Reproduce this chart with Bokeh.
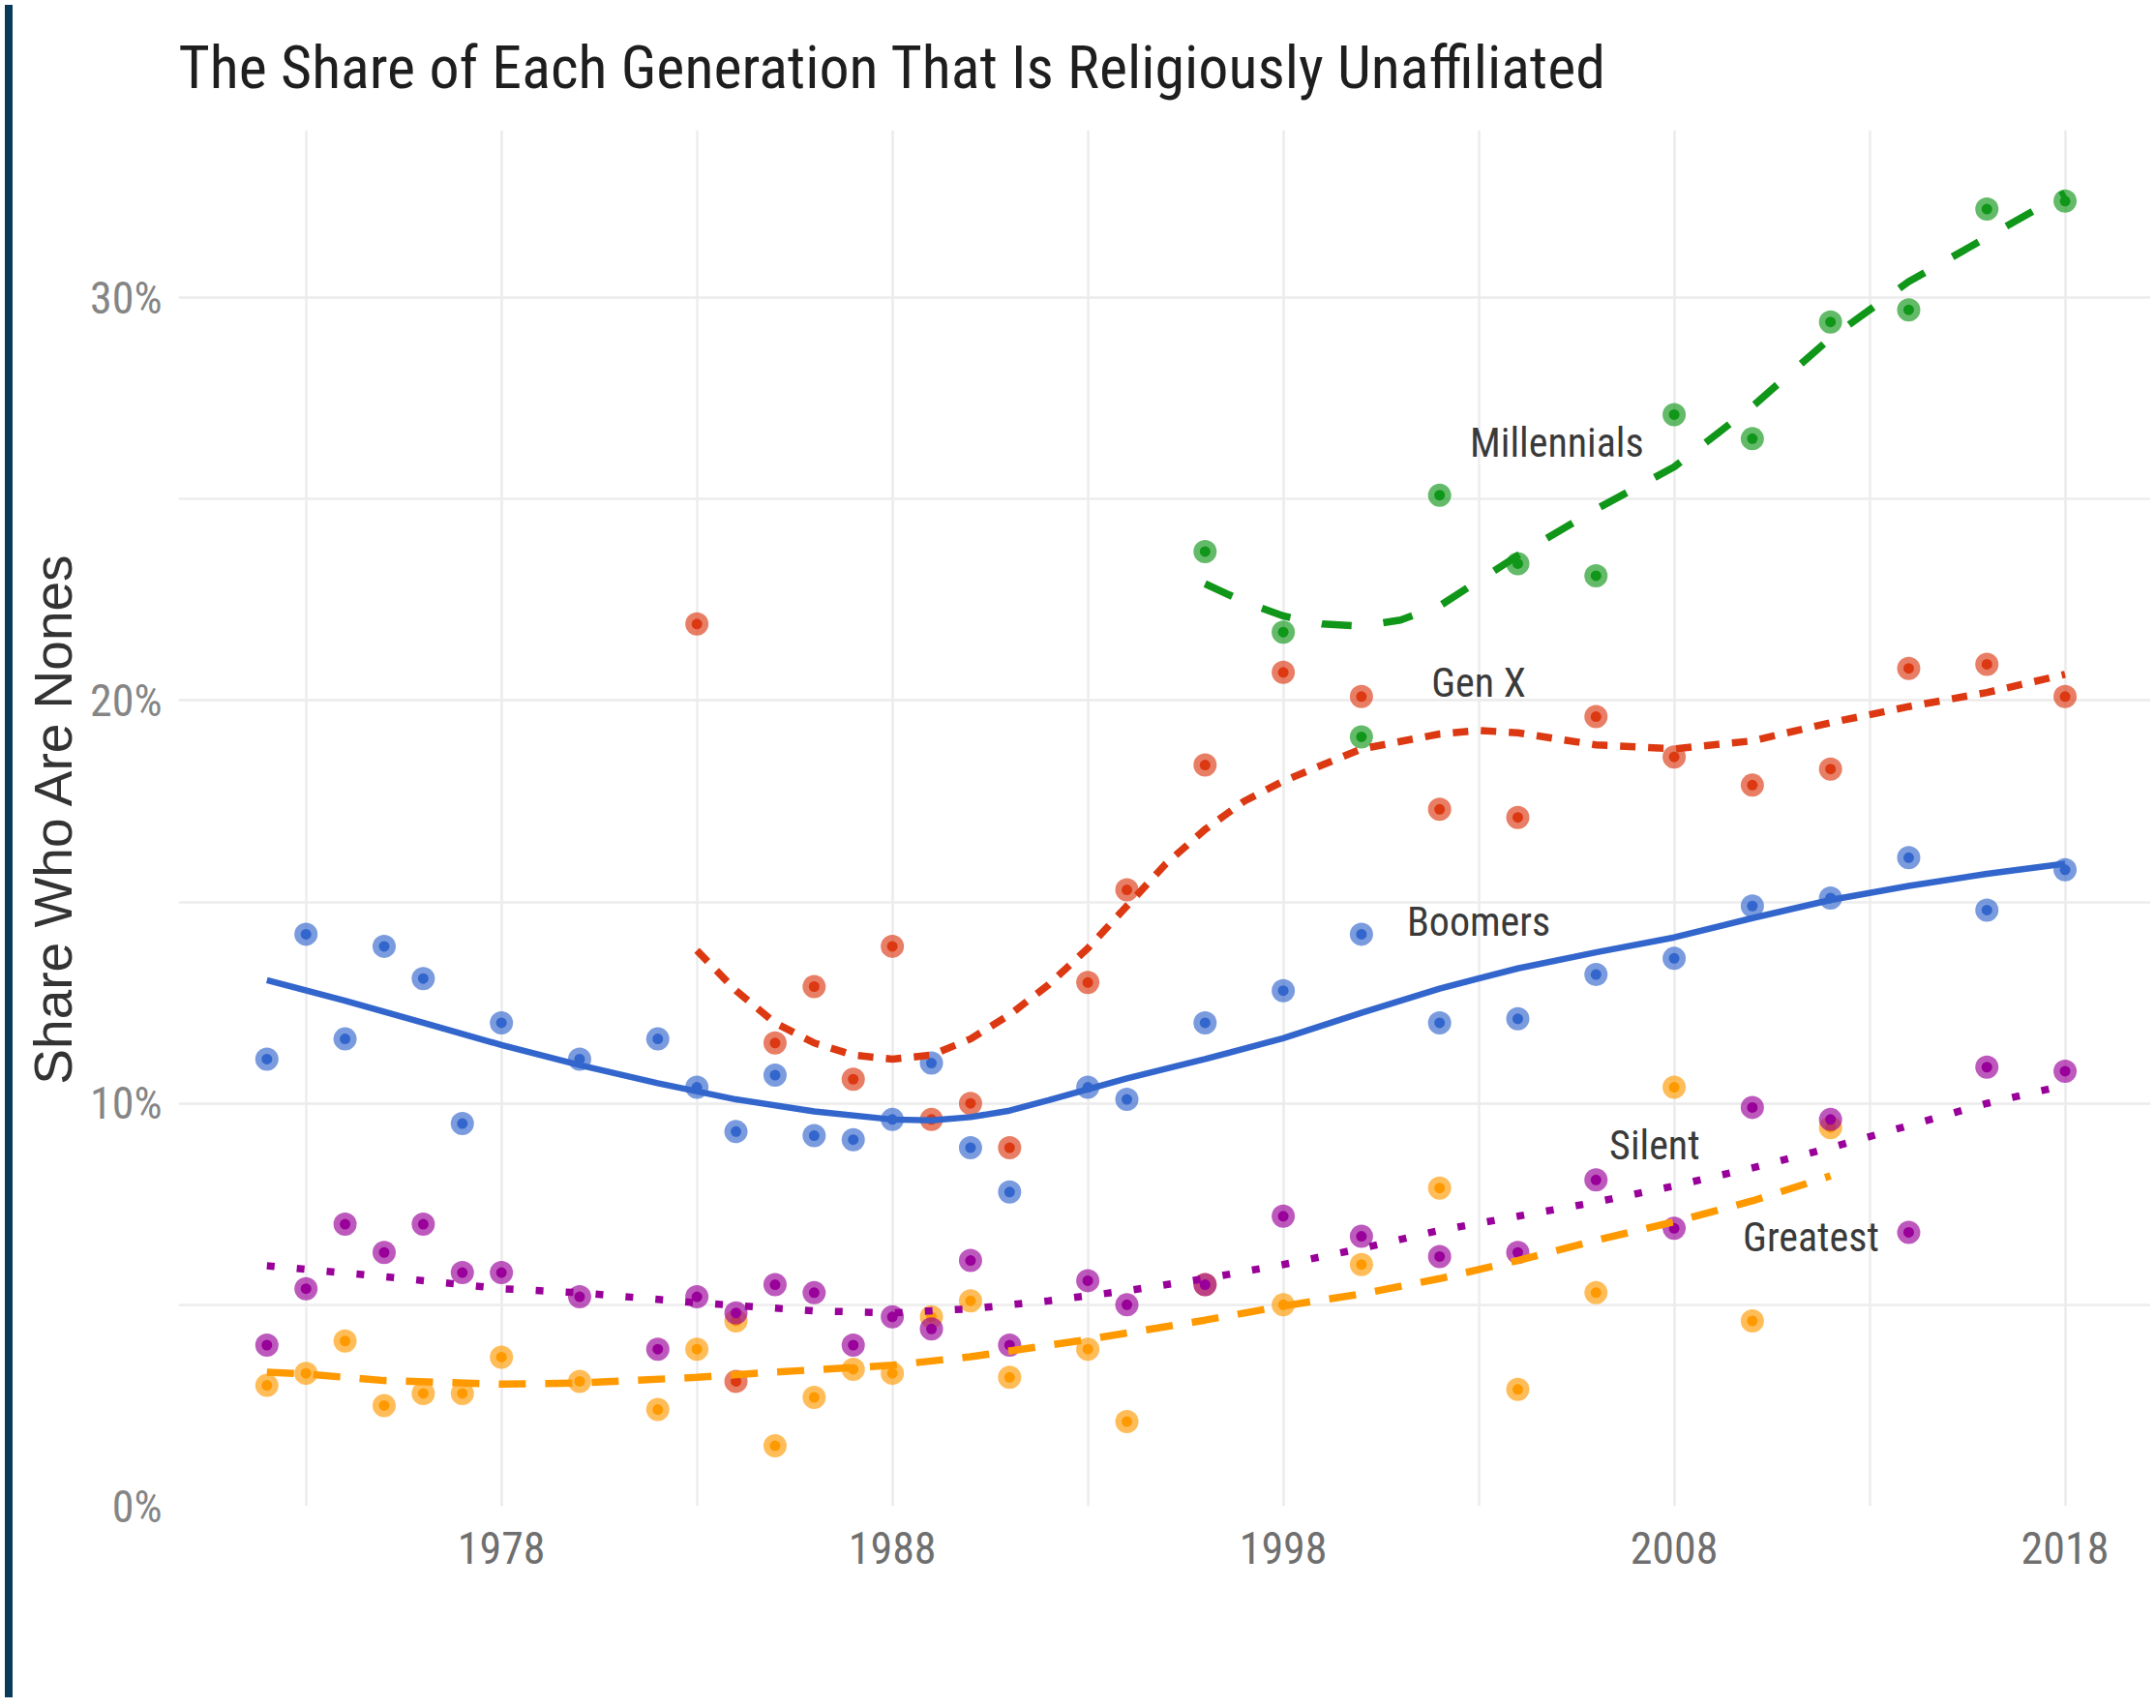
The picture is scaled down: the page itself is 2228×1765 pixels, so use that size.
from bokeh.plotting import figure
from bokeh.models import Range1d, FixedTicker, Div
from bokeh.layouts import row
from bokeh.core.properties import value
from bokeh.embed import file_html
from bokeh.resources import INLINE

# ---------------- data ----------------
title_text = "The Share of Each Generation That Is Religiously Unaffiliated"
y_axis_title = "Share Who Are Nones"

x_ticks = [1978, 1988, 1998, 2008, 2018]
x_minor = [1973, 1983, 1993, 2003, 2013]
y_ticks = [0, 10, 20, 30]
y_tick_labels = ["0%", "10%", "20%", "30%"]
y_minor = [5, 15, 25]

boomers_years = [1972, 1973, 1974, 1975, 1976, 1977, 1978, 1980, 1982, 1983, 1984, 1985,
                 1986, 1987, 1988, 1989, 1990, 1991, 1993, 1994, 1996, 1998, 2000, 2002,
                 2004, 2006, 2008, 2010, 2012, 2014, 2016, 2018]
boomers_pct = [11.1, 14.2, 11.6, 13.9, 13.1, 9.5, 12.0, 11.1, 11.6, 10.4, 9.3, 10.7,
               9.2, 9.1, 9.6, 11.0, 8.9, 7.8, 10.4, 10.1, 12.0, 12.8, 14.2, 12.0,
               12.1, 13.2, 13.6, 14.9, 15.1, 16.1, 14.8, 15.8]

silent_years = [1972, 1973, 1974, 1975, 1976, 1977, 1978, 1980, 1982, 1983, 1984, 1985,
                1986, 1987, 1988, 1989, 1990, 1991, 1993, 1994, 1996, 1998, 2000, 2002,
                2004, 2006, 2008, 2010, 2012, 2014, 2016, 2018]
silent_pct = [4.0, 5.4, 7.0, 6.3, 7.0, 5.8, 5.8, 5.2, 3.9, 5.2, 4.8, 5.5,
              5.3, 4.0, 4.7, 4.4, 6.1, 4.0, 5.6, 5.0, 5.5, 7.2, 6.7, 6.2,
              6.3, 8.1, 6.9, 9.9, 9.6, 6.8, 10.9, 10.8]

greatest_years = [1972, 1973, 1974, 1975, 1976, 1977, 1978, 1980, 1982, 1983, 1984, 1985,
                  1986, 1987, 1988, 1989, 1990, 1991, 1993, 1994, 1996, 1998, 2000, 2002,
                  2004, 2006, 2008, 2010, 2012]
greatest_pct = [3.0, 3.3, 4.1, 2.5, 2.8, 2.8, 3.7, 3.1, 2.4, 3.9, 4.6, 1.5,
                2.7, 3.4, 3.3, 4.7, 5.1, 3.2, 3.9, 2.1, 5.5, 5.0, 6.0, 7.9,
                2.9, 5.3, 10.4, 4.6, 9.4]

genx_years = [1983, 1984, 1985, 1986, 1987, 1988, 1989, 1990, 1991, 1993, 1994, 1996,
              1998, 2000, 2002, 2004, 2006, 2008, 2010, 2012, 2014, 2016, 2018]
genx_pct = [21.9, 3.1, 11.5, 12.9, 10.6, 13.9, 9.6, 10.0, 8.9, 13.0, 15.3, 18.4,
            20.7, 20.1, 17.3, 17.1, 19.6, 18.6, 17.9, 18.3, 20.8, 20.9, 20.1]

millennials_years = [1996, 1998, 2000, 2002, 2004, 2006, 2008, 2010, 2012, 2014, 2016, 2018]
millennials_pct = [23.7, 21.7, 19.1, 25.1, 23.4, 23.1, 27.1, 26.5, 29.4, 29.7, 32.2, 32.4]

# smoothed trend lines
boomers_fit_years = [1972, 1974, 1976, 1978, 1980, 1982, 1984, 1986, 1988, 1989, 1990, 1991,
                     1992, 1993, 1994, 1996, 1998, 2000, 2002, 2004, 2006, 2008, 2010, 2012,
                     2014, 2016, 2018]
boomers_fit = [13.06, 12.55, 12.0, 11.45, 10.95, 10.5, 10.1, 9.8, 9.6, 9.58, 9.66, 9.82,
               10.08, 10.35, 10.62, 11.1, 11.62, 12.25, 12.85, 13.35, 13.75, 14.12, 14.6, 15.05,
               15.4, 15.7, 15.95]

genx_fit_years = [1983, 1984, 1985, 1986, 1987, 1988, 1989, 1990, 1991, 1992, 1993, 1994,
                  1995, 1996, 1997, 1998, 2000, 2002, 2003, 2004, 2006, 2008, 2010, 2012,
                  2014, 2016, 2018]
genx_fit = [13.8, 12.8, 12.0, 11.5, 11.2, 11.1, 11.2, 11.6, 12.2, 12.95, 13.85, 14.9,
            15.95, 16.8, 17.5, 18.0, 18.8, 19.17, 19.26, 19.2, 18.9, 18.8, 19.0, 19.45,
            19.85, 20.2, 20.65]

millennials_fit_years = [1996, 1997, 1998, 1999, 2000, 2001, 2002, 2004, 2006, 2008, 2010,
                         2012, 2014, 2016, 2018]
millennials_fit = [22.9, 22.45, 22.1, 21.9, 21.85, 22.0, 22.35, 23.6, 24.75, 25.8, 27.3,
                   29.0, 30.4, 31.5, 32.6]

silent_fit_years = [1972, 1975, 1978, 1980, 1983, 1986, 1988, 1990, 1992, 1994, 1996, 1998,
                    2000, 2002, 2004, 2006, 2008, 2010, 2012, 2014, 2016, 2018]
silent_fit = [5.97, 5.7, 5.4, 5.3, 5.05, 4.85, 4.8, 4.9, 5.1, 5.35, 5.65, 6.0,
              6.4, 6.85, 7.2, 7.55, 7.95, 8.4, 8.9, 9.45, 10.0, 10.45]

greatest_fit_years = [1972, 1973, 1975, 1978, 1980, 1983, 1985, 1988, 1990, 1993, 1996, 1998,
                      2000, 2002, 2004, 2006, 2008, 2010, 2012]
greatest_fit = [3.33, 3.28, 3.12, 3.03, 3.06, 3.2, 3.33, 3.5, 3.71, 4.14, 4.62, 4.97,
                5.27, 5.65, 6.1, 6.6, 7.06, 7.58, 8.2]

label_names = ["Millennials", "Gen X", "Boomers", "Silent", "Greatest"]
label_x = [2005.0, 2003.0, 2003.0, 2007.5, 2011.5]
label_y = [26.4, 20.45, 14.5, 8.97, 6.68]

colors = {
    "Boomers": "#3366CC",
    "Gen X": "#DC3912",
    "Greatest": "#FF9900",
    "Millennials": "#109618",
    "Silent": "#990099",
}

NARROW = "Roboto Condensed, DejaVu Sans Condensed, Liberation Sans Narrow, sans-serif"

# ---------------- figure ----------------
fig = figure(width=2204, height=1749, output_backend="svg", toolbar_location=None,
             x_range=Range1d(1969.74, 2020.19), y_range=Range1d(0, 34.16),
             min_border_left=166, min_border_right=0, min_border_top=134, min_border_bottom=193)
fig.background_fill_color = "white"
fig.border_fill_color = "white"
fig.outline_line_color = None

fig.title.text = title_text
fig.title.text_font = NARROW
fig.title.text_font_size = "62px"
fig.title.text_font_style = "normal"
fig.title.text_color = "#1e1e1e"
fig.title.align = "left"
fig.title.standoff = 58

# axes
fig.xaxis.ticker = FixedTicker(ticks=x_ticks, minor_ticks=x_minor)
fig.yaxis.ticker = FixedTicker(ticks=y_ticks, minor_ticks=y_minor)
fig.yaxis.major_label_overrides = {t: s for t, s in zip(y_ticks, y_tick_labels)}
for ax in (fig.xaxis, fig.yaxis):
    ax.axis_line_color = None
    ax.major_tick_line_color = None
    ax.minor_tick_line_color = None
    ax.major_label_text_font = NARROW
    ax.major_label_text_font_size = "46px"
fig.xaxis.major_label_text_color = "#6f6f6f"
fig.yaxis.major_label_text_color = "#858585"
fig.xaxis.major_label_standoff = 20
fig.yaxis.major_label_standoff = 11

fig.yaxis.axis_label = y_axis_title
fig.yaxis.axis_label_text_font = "Liberation Sans"
fig.yaxis.axis_label_text_font_size = "55px"
fig.yaxis.axis_label_text_font_style = "normal"
fig.yaxis.axis_label_text_color = "#333333"
fig.yaxis.axis_label_standoff = 4

# grid
for g in (fig.xgrid, fig.ygrid):
    g.grid_line_color = "#ebebeb"
    g.grid_line_width = 2.5
    g.minor_grid_line_color = "#ededed"
    g.minor_grid_line_width = 2.5

# points
series = [
    ("Boomers", boomers_years, boomers_pct),
    ("Gen X", genx_years, genx_pct),
    ("Greatest", greatest_years, greatest_pct),
    ("Millennials", millennials_years, millennials_pct),
    ("Silent", silent_years, silent_pct),
]
for name, xs, ys in series:
    c = colors[name]
    fig.scatter(xs, ys, size=24, fill_color=c, fill_alpha=0.65, line_color=None)
    fig.scatter(xs, ys, size=11, fill_color=c, fill_alpha=1.0, line_color=None)

# smoothed lines
fig.line(boomers_fit_years, boomers_fit, line_color=colors["Boomers"], line_width=6.5)
fig.line(genx_fit_years, genx_fit, line_color=colors["Gen X"], line_width=7.5, line_dash="16 13")
fig.line(millennials_fit_years, millennials_fit, line_color=colors["Millennials"], line_width=7.5,
         line_dash="31 33")
fig.line(silent_fit_years, silent_fit, line_color=colors["Silent"], line_width=7.5, line_dash="8 23")
fig.line(greatest_fit_years, greatest_fit, line_color=colors["Greatest"], line_width=7.5,
         line_dash="28 20")

# generation labels
fig.text(x=label_x, y=label_y, text=label_names, text_align="center", text_baseline="middle",
         text_font=value(NARROW), text_font_size=value("42px"), text_color="#3a3a3a")

# dark frame strip at the left edge, as in the screenshot
strip = Div(text="", width=8, height=1749, styles={"background-color": "#073b57"})

p = row(strip, fig)

open("out.html", "w").write(file_html(p, INLINE))
